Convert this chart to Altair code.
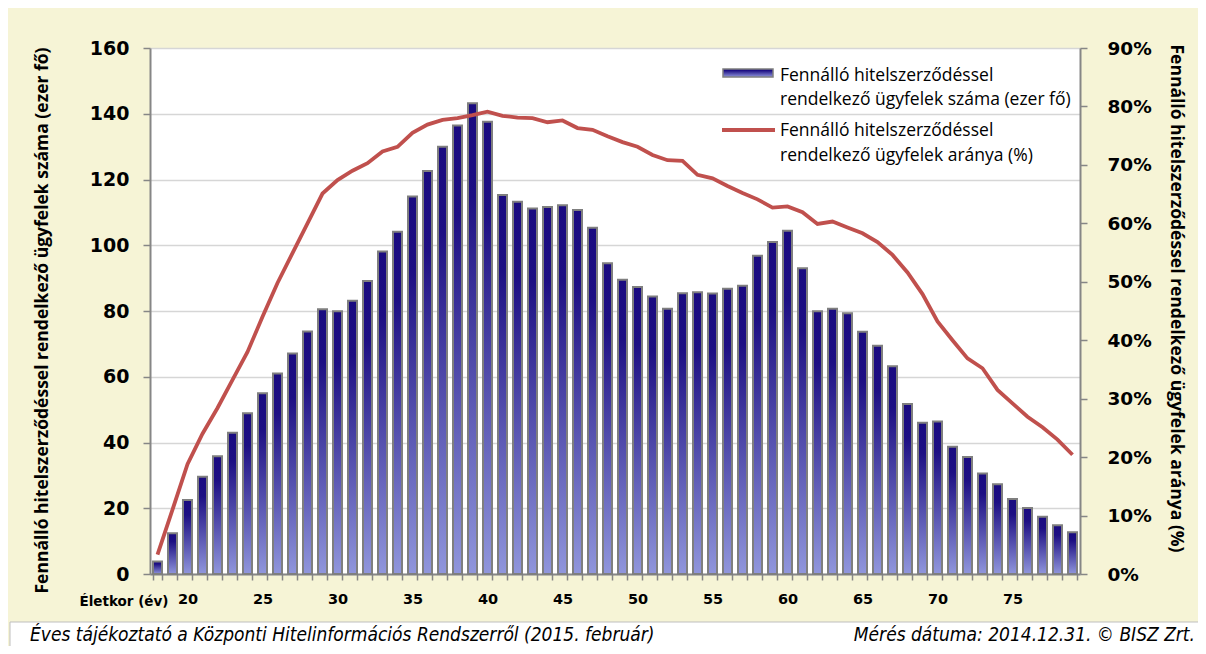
import altair as alt
import pandas as pd

# ---------------- data ----------------
ages = list(range(18, 80))
counts = [3.8, 12.4, 22.5, 29.6, 35.8, 43.0, 48.9, 55.0, 61.0, 67.1,
          73.8, 80.5, 79.9, 83.1, 89.1, 98.1, 104.1, 114.8, 122.6, 130.0,
          136.4, 143.2, 137.6, 115.3, 113.2, 111.2, 111.6, 112.2, 110.7, 105.3,
          94.5, 89.5, 87.3, 84.4, 80.7, 85.4, 85.7, 85.3, 86.8, 87.7,
          96.8, 101.0, 104.4, 93.0, 79.9, 80.7, 79.3, 73.7, 69.4, 63.2,
          51.7, 46.0, 46.4, 38.7, 35.6, 30.6, 27.3, 22.8, 20.1, 17.4,
          14.8, 12.7]
shares = [3.3, 11.0, 18.8, 24.0, 28.4, 33.2, 38.0, 44.0, 49.8, 54.9,
          60.0, 65.1, 67.4, 69.0, 70.3, 72.3, 73.1, 75.5, 76.9, 77.7,
          78.0, 78.5, 79.1, 78.4, 78.1, 78.0, 77.3, 77.6, 76.3, 76.0,
          74.9, 73.9, 73.1, 71.7, 70.8, 70.7, 68.3, 67.7, 66.4, 65.2,
          64.1, 62.7, 62.9, 61.9, 59.9, 60.3, 59.3, 58.3, 56.8, 54.6,
          51.6, 47.9, 43.2, 40.0, 36.9, 35.2, 31.5, 29.2, 26.9, 25.1,
          23.0, 20.4]
left_ticks = [0, 20, 40, 60, 80, 100, 120, 140, 160]
right_ticks = [0, 10, 20, 30, 40, 50, 60, 70, 80, 90]
left_title = "Fennálló hitelszerződéssel rendelkező  ügyfelek száma (ezer fő)"
right_title = "Fennálló hitelszerződéssel rendelkező ügyfelek aránya (%)"
x_title = "Életkor (év)"
legend_bar_text = "Fennálló hitelszerződéssel\nrendelkező ügyfelek száma (ezer fő)"
legend_line_text = "Fennálló hitelszerződéssel\nrendelkező ügyfelek aránya (%)"
footer_left = "Éves tájékoztató a Központi Hitelinformációs Rendszerről (2015. február)"
footer_right = "Mérés dátuma: 2014.12.31. © BISZ Zrt."

df = pd.DataFrame({"age": ages, "count": counts, "share": shares})
one = pd.DataFrame({"k": [0]})

W, H = 930, 526
BG = "#f6f4d6"
GRID = "#d6d6d6"
AXIS = "#868686"
NAVY_TOP = "#1a0b80"
NAVY_LOW = "#9096dc"
RED = "#c0504d"
BOLD = "DejaVu Sans"
TXT = "Open Sans"
FOOT = "DejaVu Sans Condensed, DejaVu Sans"

bar_grad = {"gradient": "linear", "x1": 0, "y1": 0, "x2": 0, "y2": 1,
            "stops": [{"offset": 0, "color": NAVY_TOP},
                      {"offset": 0.2, "color": "#1d0f83"},
                      {"offset": 1, "color": NAVY_LOW}]}

x_enc = alt.X(
    "age:O",
    scale=alt.Scale(paddingInner=0.4, paddingOuter=0.2),
    axis=alt.Axis(
        title=x_title, titleX=18, titleY=31, titleAlign="right",
        titleBaseline="alphabetic", titleFont=BOLD, titleFontSize=13.5,
        titleFontWeight="bold", titleColor="black",
        labelExpr="datum.value % 5 == 0 ? datum.label : ''",
        labelAngle=0, labelOverlap=False, labelFont=BOLD, labelFontSize=14.5,
        labelFontWeight="bold", labelColor="black", labelPadding=12,
        tickBand="extent", tickSize=6, tickColor=AXIS, tickWidth=1.5,
        domainColor=AXIS, domainWidth=2, grid=False,
    ),
)

bars = alt.Chart(df).mark_bar(
    color=bar_grad, stroke="#7f7f7f", strokeWidth=2
).encode(
    x=x_enc,
    y=alt.Y(
        "count:Q",
        scale=alt.Scale(domain=[0, 160], nice=False),
        axis=alt.Axis(
            values=left_ticks, orient="left", title=left_title,
            titleAngle=-90, titleX=-108, titleY=272, titleAlign="center",
            titleBaseline="middle", titleFont=TXT, titleFontSize=17.5,
            titleFontWeight="bold", titleColor="black",
            labelFont=BOLD, labelFontSize=19, labelFontWeight="bold",
            labelColor="black", labelPadding=14, tickSize=7,
            tickColor=AXIS, tickWidth=1.5, domainColor=AXIS, domainWidth=2,
            grid=True, gridColor=GRID, gridWidth=1.6,
        ),
    ),
)

line = alt.Chart(df).mark_line(color=RED, strokeWidth=3.8).encode(
    x=x_enc,
    y=alt.Y(
        "share:Q",
        scale=alt.Scale(domain=[0, 90], nice=False),
        axis=alt.Axis(
            values=right_ticks, orient="right", title=right_title,
            labelExpr="datum.value + '%'",
            titleAngle=90, titleX=95, titleY=250, titleAlign="center",
            titleBaseline="middle", titleFont=TXT, titleFontSize=17.5,
            titleFontWeight="bold", titleColor="black",
            labelFont=BOLD, labelFontSize=18.5, labelFontWeight="bold",
            labelColor="black", labelPadding=20, tickSize=7,
            tickColor=AXIS, tickWidth=1.5, domainColor=AXIS, domainWidth=2,
            grid=False,
        ),
    ),
)

# legend (drawn inside the plot area, top right)
leg_sym_bar = alt.Chart(one).mark_rect(
    color=bar_grad, stroke="#7f7f7f", strokeWidth=1.5
).encode(x=alt.value(573), x2=alt.value(623), y=alt.value(21), y2=alt.value(29))
leg_sym_line = alt.Chart(one).mark_rule(color=RED, strokeWidth=3.8).encode(
    x=alt.value(572), x2=alt.value(625), y=alt.value(82))
leg_txt_bar = alt.Chart(one).mark_text(
    align="left", baseline="alphabetic", font=TXT, fontSize=17.5,
    lineBreak="\n", lineHeight=24.5, color="black"
).encode(x=alt.value(630), y=alt.value(32.5), text=alt.value(legend_bar_text))
leg_txt_line = alt.Chart(one).mark_text(
    align="left", baseline="alphabetic", font=TXT, fontSize=17.5,
    lineBreak="\n", lineHeight=24.5, color="black"
).encode(x=alt.value(630), y=alt.value(88), text=alt.value(legend_line_text))

# footer strip
foot_rect = alt.Chart(one).mark_rect(color="white", stroke="#bfbfbf", strokeWidth=1).encode(
    x=alt.value(-140), x2=alt.value(1060), y=alt.value(574), y2=alt.value(620))
foot_l = alt.Chart(one).mark_text(
    align="left", baseline="alphabetic", font=FOOT, fontSize=19,
    fontStyle="italic", color="black"
).encode(x=alt.value(-120), y=alt.value(593), text=alt.value(footer_left))
foot_r = alt.Chart(one).mark_text(
    align="right", baseline="alphabetic", font=FOOT, fontSize=19,
    fontStyle="italic", color="black"
).encode(x=alt.value(1045), y=alt.value(593), text=alt.value(footer_right))

chart = alt.layer(
    bars, line, leg_sym_bar, leg_sym_line, leg_txt_bar, leg_txt_line,
    foot_rect, foot_l, foot_r
).resolve_scale(y="independent").properties(
    width=W, height=H,
    autosize=alt.AutoSizeParams(type="none"),
    padding={"left": 142, "top": 40, "right": 118, "bottom": 72},
    background=BG,
).configure_view(fill="white", stroke=None)

chart.save("out.html", embed_options={"renderer": "svg", "actions": False})
